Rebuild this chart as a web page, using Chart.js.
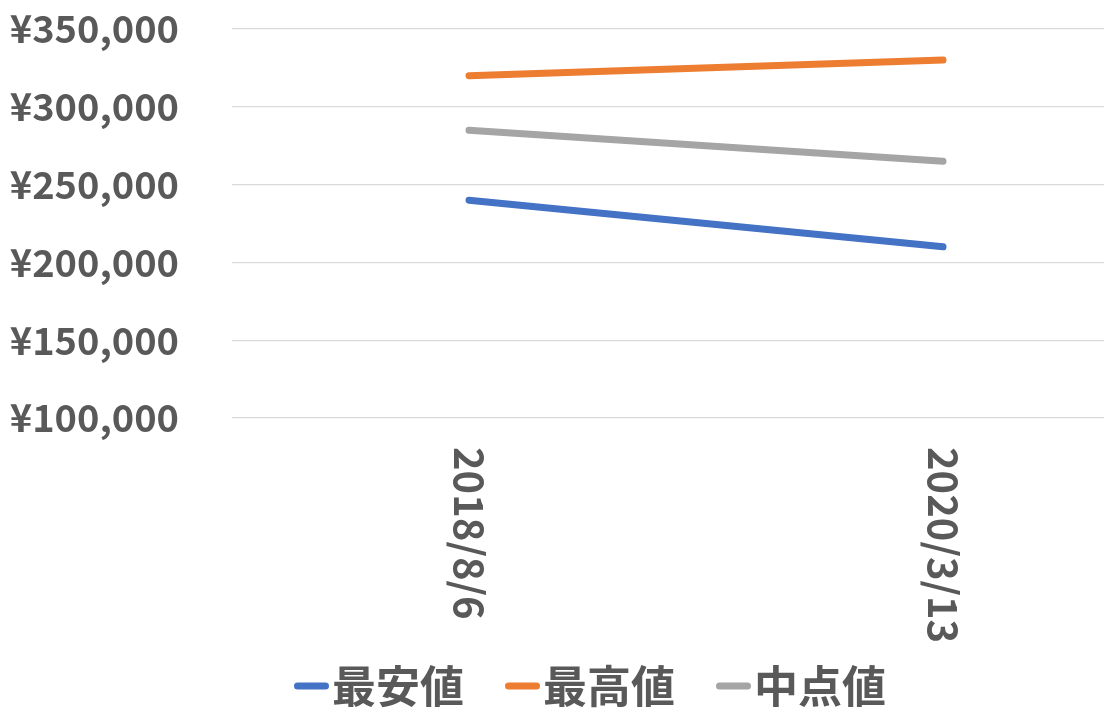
<!DOCTYPE html>
<html><head><meta charset="utf-8">
<script src="https://cdn.jsdelivr.net/npm/chart.js@4/dist/chart.umd.min.js"></script>
<style>
html,body{margin:0;padding:0;background:#fff;overflow:hidden;}
#wrap{width:1104px;height:719px;overflow:hidden;position:relative;}
#box{width:1180px;height:719px;position:absolute;left:0;top:0;}
</style></head><body>
<div id="wrap"><div id="box"><canvas id="c"></canvas></div></div>
<script>
const categories = ['2018/8/6', '2020/3/13'];
const seriesNames = ['最安値', '最高値', '中点値'];
const minValues = [240000, 210000];
const maxValues = [320000, 330000];
const midValues = [285000, 265000];
const yTickValues = [100000, 150000, 200000, 250000, 300000, 350000];
const colors = ['#4472C4', '#ED7D31', '#A5A5A5'];

const FONT = "'Noto Sans CJK JP', 'Noto Sans', sans-serif";
const TEXT = '#595959';

const xLabelPlugin = {
  id: 'xLabels',
  afterDraw(chart) {
    const ctx = chart.ctx, xs = chart.scales.x, area = chart.chartArea;
    ctx.save();
    ctx.fillStyle = TEXT;
    ctx.font = 'bold 40px ' + FONT;
    ctx.textAlign = 'left';
    ctx.textBaseline = 'middle';
    chart.data.labels.forEach((lab, i) => {
      const x = xs.getPixelForValue(i);
      ctx.save();
      ctx.translate(x, area.bottom + 29);
      ctx.rotate(Math.PI / 2);
      ctx.fillText(lab, 0, 0);
      ctx.restore();
    });
    ctx.restore();
  }
};

const legendPlugin = {
  id: 'lineLegend',
  afterDraw(chart) {
    const ctx = chart.ctx;
    ctx.save();
    ctx.font = 'bold 44px ' + FONT;
    const sw = 35, gapT = 3, gapI = 41, cy = 686;
    const items = chart.data.datasets.map(d => ({label: d.label, color: d.borderColor, w: sw + gapT + ctx.measureText(d.label).width}));
    const total = items.reduce((s, it) => s + it.w, 0) + gapI * (items.length - 1);
    let x = chart.width / 2 - total / 2;
    items.forEach(it => {
      ctx.strokeStyle = it.color;
      ctx.lineWidth = 7;
      ctx.lineCap = 'round';
      ctx.beginPath();
      ctx.moveTo(x + 3.5, cy);
      ctx.lineTo(x + sw - 3.5, cy);
      ctx.stroke();
      ctx.fillStyle = TEXT;
      ctx.textAlign = 'left';
      ctx.textBaseline = 'middle';
      ctx.fillText(it.label, x + sw + gapT, cy);
      x += it.w + gapI;
    });
    ctx.restore();
  }
};

const seriesData = [minValues, maxValues, midValues];
new Chart(document.getElementById('c'), {
  type: 'line',
  data: {
    labels: categories,
    datasets: seriesNames.map((n, i) => ({
      label: n,
      data: seriesData[i],
      borderColor: colors[i],
      backgroundColor: colors[i],
      borderWidth: 7,
      borderCapStyle: 'round',
      pointRadius: 0,
      pointHoverRadius: 0,
      tension: 0,
      fill: false
    }))
  },
  options: {
    responsive: true,
    maintainAspectRatio: false,
    animation: false,
    events: [],
    layout: {padding: {top: 0, left: 0, right: 0, bottom: 0}},
    plugins: {legend: {display: false}, tooltip: {enabled: false}},
    scales: {
      x: {
        offset: true,
        grid: {display: false, drawTicks: false},
        border: {display: false},
        ticks: {display: false},
        afterFit(s) { s.height = 719 - 29 - 389; }
      },
      y: {
        min: 100000, max: 350000,
        afterBuildTicks(s) { s.ticks = yTickValues.map(v => ({value: v})); },
        afterFit(s) { s.width = 232; s.paddingTop = 29; },
        grid: {color: '#D9D9D9', lineWidth: 1.3, drawTicks: false},
        border: {display: false},
        ticks: {
          padding: 53,
          color: TEXT,
          font: {family: FONT, size: 38, weight: 'bold'},
          callback: v => '¥' + Number(v).toLocaleString('en-US')
        }
      }
    }
  },
  plugins: [xLabelPlugin, legendPlugin]
});
</script>
</body></html>
